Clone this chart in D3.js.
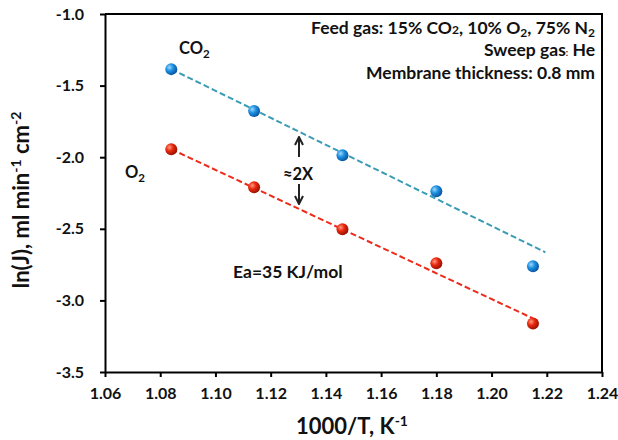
<!DOCTYPE html>
<html>
<head>
<meta charset="utf-8">
<style type="text/css">
    body { margin: 0; background: #fff; }
    text { font-family: Lato, "Open Sans", sans-serif; font-weight: bold; fill: #111; }
</style>
</head>
<body>
<svg width="618" height="440"></svg>
<script type="text/javascript" src="https://cdn.jsdelivr.net/npm/d3@7"></script>
<script type="text/javascript">

    // data
    let invT = [1.084, 1.114, 1.146, 1.180, 1.215];
    let lnCO2 = [-1.385, -1.678, -1.986, -2.238, -2.762];
    let lnO2 = [-1.944, -2.210, -2.503, -2.741, -3.161];
    // dashed fit lines: [x, y] start and end
    let fitCO2 = [[1.084, -1.385], [1.2195, -2.664]];
    let fitO2 = [[1.084, -1.944], [1.215, -3.126]];
    let xTicks = [1.06, 1.08, 1.10, 1.12, 1.14, 1.16, 1.18, 1.20, 1.22, 1.24];
    let yTicks = [-1.0, -1.5, -2.0, -2.5, -3.0, -3.5];

    var svg = d3.select("svg"),
        pLeft = 105, pRight = 602, pTop = 14, pBottom = 372;

    var x = d3.scaleLinear().domain([1.06, 1.24]).range([pLeft, pRight]),
        y = d3.scaleLinear().domain([-3.5, -1.0]).range([pBottom, pTop]);

    // sphere-like gradients for the markers
    var defs = svg.append("defs");
    function ball(id, light, mid, dark) {
        var g = defs.append("radialGradient").attr("id", id)
            .attr("cx", "35%").attr("cy", "35%").attr("r", "70%");
        g.append("stop").attr("offset", "0%").attr("stop-color", light);
        g.append("stop").attr("offset", "45%").attr("stop-color", mid);
        g.append("stop").attr("offset", "100%").attr("stop-color", dark);
    }
    ball("gBlue", "#9fd6ff", "#1a8fe0", "#0b4f9a");
    ball("gRed", "#ff9a80", "#e8260c", "#8f1204");

    var arrowDefs = defs.append("marker").attr("id", "arr")
        .attr("viewBox", "0 0 10 10").attr("refX", 9).attr("refY", 5)
        .attr("markerWidth", 5).attr("markerHeight", 5).attr("orient", "auto");
    arrowDefs.append("path").attr("d", "M1,1 L9,5 L1,9").attr("fill", "none")
        .attr("stroke", "#222").attr("stroke-width", 2);

    // axes (plain hyphen for minus, like the original)
    var yFmt = function(d) { return d.toFixed(1); };
    var xAxis = svg.append("g").attr("transform", "translate(0," + pBottom + ")")
        .call(d3.axisBottom(x).tickValues(xTicks).tickFormat(d3.format(".2f")).tickSize(5).tickSizeOuter(0));
    var yAxis = svg.append("g").attr("transform", "translate(" + pLeft + ",0)")
        .call(d3.axisLeft(y).tickValues(yTicks).tickFormat(yFmt).tickSize(5).tickSizeOuter(0));

    [xAxis, yAxis].forEach(function(a) {
        a.select(".domain").attr("stroke", "#000").attr("stroke-width", 2);
        a.selectAll(".tick line").attr("stroke", "#000").attr("stroke-width", 2);
        a.selectAll(".tick text").style("font-family", "Lato, sans-serif")
            .style("font-weight", "bold").style("font-size", "16px").attr("fill", "#111");
    });
    xAxis.selectAll(".tick text").attr("dy", "1.2em");
    yAxis.selectAll(".tick text").attr("x", -21);

    // top and right frame
    svg.append("path")
        .attr("d", "M" + pLeft + "," + pTop + "H" + pRight + "V" + pBottom)
        .attr("fill", "none").attr("stroke", "#000").attr("stroke-width", 2);

    // fit lines
    var line = d3.line().x(function(d) { return x(d[0]); }).y(function(d) { return y(d[1]); });
    svg.append("path").datum(fitCO2).attr("d", line)
        .attr("fill", "none").attr("stroke", "#3a9cb4").attr("stroke-width", 2)
        .attr("stroke-dasharray", "6,3");
    svg.append("path").datum(fitO2).attr("d", line)
        .attr("fill", "none").attr("stroke", "#ee2a1a").attr("stroke-width", 2)
        .attr("stroke-dasharray", "6,3");

    // markers
    svg.selectAll("circle.co2").data(invT).enter().append("circle").attr("class", "co2")
        .attr("cx", function(d) { return x(d); })
        .attr("cy", function(d, i) { return y(lnCO2[i]); })
        .attr("r", 6).attr("fill", "url(#gBlue)");
    svg.selectAll("circle.o2").data(invT).enter().append("circle").attr("class", "o2")
        .attr("cx", function(d) { return x(d); })
        .attr("cy", function(d, i) { return y(lnO2[i]); })
        .attr("r", 6).attr("fill", "url(#gRed)");

    // labels
    function chem(tx, ty, base, sub, size) {
        var t = svg.append("text").attr("x", tx).attr("y", ty).style("font-size", size + "px");
        t.append("tspan").text(base);
        t.append("tspan").text(sub).attr("dy", 4).style("font-size", (size * 0.7) + "px");
        return t;
    }
    chem(179, 54, "CO", "2", 16.5);
    chem(125, 178, "O", "2", 16.5);

    svg.append("text").attr("x", 233).attr("y", 278).style("font-size", "17.5px").text("Ea=35 KJ/mol");

    // ≈2X annotation
    svg.append("text").attr("x", 298).attr("y", 180).attr("text-anchor", "middle")
        .style("font-size", "16.5px").text("\u22482X");
    svg.append("line").attr("x1", 299).attr("y1", 157).attr("x2", 299).attr("y2", 137)
        .attr("stroke", "#222").attr("stroke-width", 2).attr("marker-end", "url(#arr)");
    svg.append("line").attr("x1", 299).attr("y1", 184).attr("x2", 299).attr("y2", 204)
        .attr("stroke", "#222").attr("stroke-width", 2).attr("marker-end", "url(#arr)");

    // conditions text, right aligned
    var t1 = svg.append("text").attr("x", 595).attr("y", 34).attr("text-anchor", "end")
        .style("font-size", "17.5px");
    t1.append("tspan").text("Feed gas: 15% CO");
    t1.append("tspan").text("2").style("font-size", "12px");
    t1.append("tspan").text(", 10% O");
    t1.append("tspan").text("2").attr("dy", 3).style("font-size", "12px");
    t1.append("tspan").text(", 75% N").attr("dy", -3);
    t1.append("tspan").text("2").attr("dy", 3).style("font-size", "12px");

    var t2 = svg.append("text").attr("x", 595).attr("y", 56).attr("text-anchor", "end")
        .style("font-size", "17.5px");
    t2.append("tspan").text("Sweep gas");
    t2.append("tspan").text(":").style("font-size", "9px");
    t2.append("tspan").text(" He");

    svg.append("text").attr("x", 595).attr("y", 79).attr("text-anchor", "end")
        .style("font-size", "17.5px").text("Membrane thickness: 0.8 mm");

    // axis titles
    var xt = svg.append("text").attr("x", 352).attr("y", 434).attr("text-anchor", "middle")
        .style("font-size", "22px");
    xt.append("tspan").text("1000/T, K");
    xt.append("tspan").text("-1").attr("dy", -8).style("font-size", "14px");

    var yt = svg.append("text").attr("transform", "translate(29,200) rotate(-90)")
        .attr("text-anchor", "middle").style("font-size", "22px");
    yt.append("tspan").text("ln(J), ml min");
    yt.append("tspan").text("-1").attr("dy", -8).style("font-size", "14px");
    yt.append("tspan").text(" cm").attr("dy", 8);
    yt.append("tspan").text("-2").attr("dy", -8).style("font-size", "14px");

</script>
</body>
</html>
